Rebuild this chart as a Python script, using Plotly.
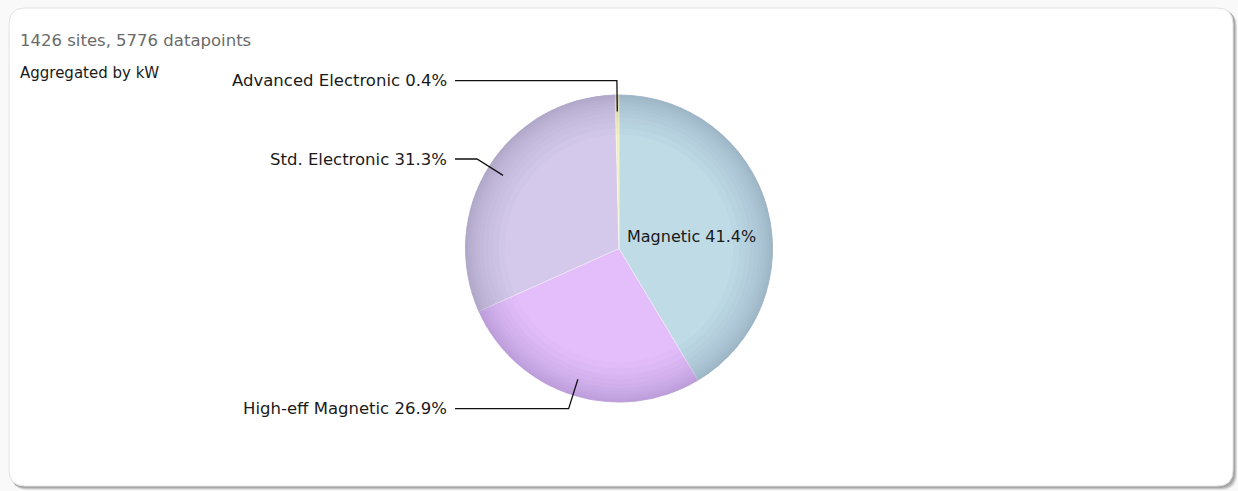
import math
import plotly.graph_objects as go

W, H = 1238, 491

# ---- data ----
categories = ["Magnetic", "High-eff Magnetic", "Std. Electronic", "Advanced Electronic"]
shares = [41.4, 26.9, 31.3, 0.4]
colors = ["#bedbe6", "#e4befa", "#d4c9ea", "#f2eebb"]
title_text = "1426 sites, 5776 datapoints"
subtitle_text = "Aggregated by kW"

# ---- pie geometry (pixels) ----
cx, cy, R = 619, 248.5, 154
dom_x = [(cx - R) / W, (cx + R) / W]
dom_y = [(H - (cy + R)) / H, (H - (cy - R)) / H]

FONT = "DejaVu Sans"
fig = go.Figure()

fig.add_trace(go.Pie(
    labels=categories, values=shares, sort=False, direction="clockwise",
    rotation=0, textinfo="none", hoverinfo="skip", showlegend=False,
    marker=dict(colors=colors, line=dict(color="rgba(255,255,255,0.45)", width=0.8)),
    domain=dict(x=dom_x, y=dom_y),
))
# smooth edge shading rings
holes = [0.74, 0.78, 0.82, 0.85, 0.88, 0.905, 0.925, 0.945, 0.96, 0.975, 0.988]
for hole in holes:
    fig.add_trace(go.Pie(
        labels=categories, values=shares, sort=False, direction="clockwise",
        rotation=0, textinfo="none", hoverinfo="skip", showlegend=False, hole=hole,
        marker=dict(colors=["rgba(70,50,90,0.018)"] * len(shares), line=dict(width=0)),
        domain=dict(x=dom_x, y=dom_y),
    ))

# ---- labels & leader lines computed from data ----
total = sum(shares)
cum = 0
annotations = []
shapes = []
for name, v in zip(categories, shares):
    mid = (cum + v / 2) / total * 2 * math.pi
    cum += v
    dx, dy = math.sin(mid), -math.cos(mid)
    text = f"{name} {v:.1f}%"
    if name == "Magnetic":
        annotations.append(dict(x=cx + 0.47 * R * dx + 3, y=cy + 0.47 * R * dy + 7,
                                text=text, showarrow=False, xref="x", yref="y",
                                font=dict(family=FONT, size=16, color="#1a1a1a")))
        continue
    ix, iy = cx + 0.89 * R * dx, cy + 0.89 * R * dy
    ex, ey = cx + 1.09 * R * dx, cy + 1.09 * R * dy
    lx = 455
    shapes.append(dict(type="path", xref="x", yref="y",
                       path=f"M {lx},{ey} L {ex},{ey} L {ix},{iy}",
                       line=dict(color="#111111", width=1.3)))
    annotations.append(dict(x=lx - 6, y=ey, text=text, showarrow=False, xref="x", yref="y",
                            xanchor="right", yanchor="middle",
                            font=dict(family=FONT, size=16.5, color="#1a1a1a")))

annotations.append(dict(x=18, y=40, text=title_text, showarrow=False, xref="x", yref="y",
                        xanchor="left", yanchor="middle",
                        font=dict(family=FONT, size=16.5, color="#6a6a6a")))
annotations.append(dict(x=18, y=73, text=subtitle_text, showarrow=False, xref="x", yref="y",
                        xanchor="left", yanchor="middle",
                        font=dict(family=FONT, size=15, color="#1a1a1a")))


def rrect(x0, y0, x1, y1, r):
    return (f"M {x0+r},{y0} L {x1-r},{y0} Q {x1},{y0} {x1},{y0+r} L {x1},{y1-r} "
            f"Q {x1},{y1} {x1-r},{y1} L {x0+r},{y1} Q {x0},{y1} {x0},{y1-r} "
            f"L {x0},{y0+r} Q {x0},{y0} {x0+r},{y0} Z")


panel = []
for off, col in [(4, "rgba(0,0,0,0.10)"), (3, "rgba(0,0,0,0.12)"), (2, "rgba(0,0,0,0.15)")]:
    panel.append(dict(type="path", xref="x", yref="y", layer="below",
                      path=rrect(9 + off - 1, 8 + off - 1, 1233 + off, 486 + off, 16),
                      fillcolor=col, line=dict(width=0)))
panel.append(dict(type="path", xref="x", yref="y", layer="below",
                  path=rrect(9, 8, 1233, 486, 16),
                  fillcolor="white", line=dict(color="#e2e2e2", width=1)))

fig.update_layout(
    width=W, height=H, margin=dict(l=0, r=0, t=0, b=0),
    paper_bgcolor="#f9f9f9", plot_bgcolor="rgba(0,0,0,0)",
    xaxis=dict(range=[0, W], visible=False, fixedrange=True),
    yaxis=dict(range=[H, 0], visible=False, fixedrange=True),
    shapes=panel + shapes, annotations=annotations,
)

fig.write_html("out.html")
